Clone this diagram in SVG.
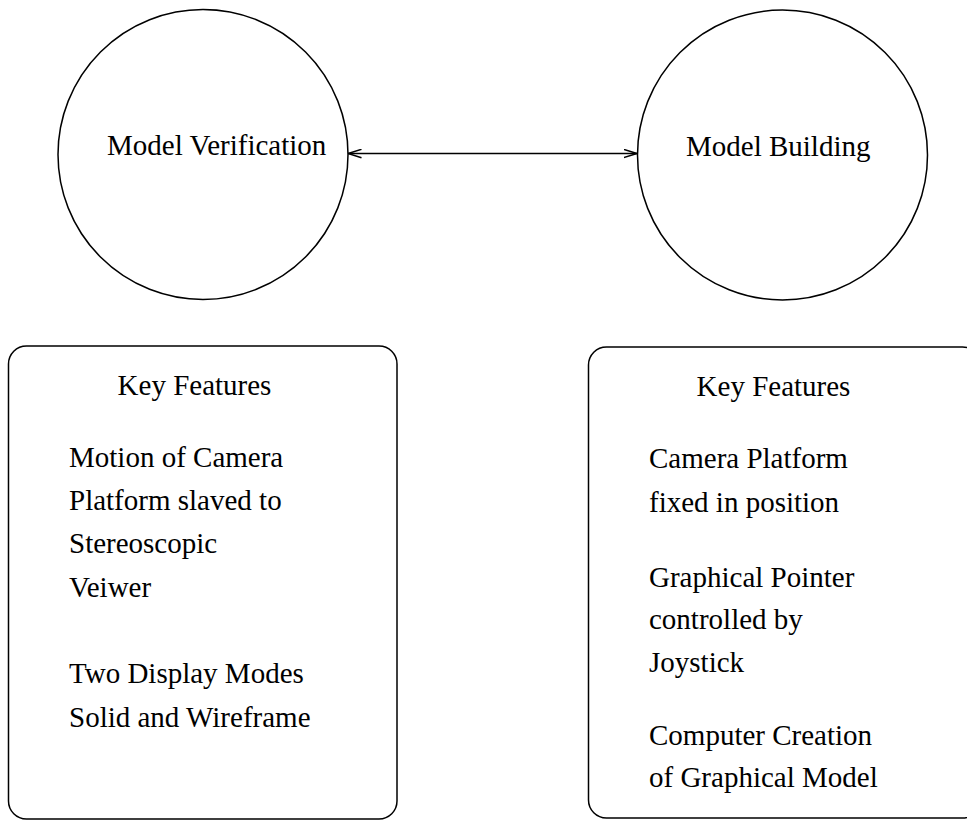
<svg xmlns="http://www.w3.org/2000/svg" width="967" height="829" viewBox="0 0 967 829">
  <style>
    .shape { fill: #ffffff; stroke: #000000; stroke-width: 1.5; }
    .label { font-family: "Liberation Serif", "Times New Roman", serif; font-size: 29px; fill: #000000; }
    .body { font-family: "Liberation Serif", "Times New Roman", serif; font-size: 29px; fill: #000000; }
    .mid { text-anchor: middle; }
    .conn { fill: none; stroke: #000000; stroke-width: 1.5; }
  </style>
  <defs>
    <marker id="open-arrow" viewBox="0 0 14 10" refX="13.5" refY="5" markerWidth="14" markerHeight="10" markerUnits="userSpaceOnUse" orient="auto-start-reverse">
      <path d="M0,0.8 L13.5,5 L0,9.2" fill="none" stroke="#000000" stroke-width="1.5"/>
    </marker>
  </defs>
  <rect width="967" height="829" fill="#ffffff"/>

  <!-- connectors -->
  <g id="connectors">
    <line class="conn" x1="348" y1="153.5" x2="637" y2="153.5" marker-start="url(#open-arrow)" marker-end="url(#open-arrow)"/>
  </g>

  <g id="model-verification">
    <circle class="shape" cx="203" cy="154.5" r="145"/>
    <text class="label" x="107" y="155">Model Verification</text>
  </g>

  <g id="model-building">
    <circle class="shape" cx="782.5" cy="155" r="145"/>
    <text class="label" x="686" y="156">Model Building</text>
  </g>

  <g id="verification-features">
    <rect class="shape" x="8.5" y="346" width="388.5" height="473" rx="18" ry="18"/>
    <text class="body mid" x="194.5" y="395">Key Features</text>
    <text class="body" x="69" y="467">Motion of Camera</text>
    <text class="body" x="69" y="510">Platform slaved to</text>
    <text class="body" x="69" y="553">Stereoscopic</text>
    <text class="body" x="69" y="597">Veiwer</text>
    <text class="body" x="69" y="683">Two Display Modes</text>
    <text class="body" x="69" y="727">Solid and Wireframe</text>
  </g>

  <g id="building-features">
    <rect class="shape" x="588.5" y="347" width="392" height="471" rx="18" ry="18"/>
    <text class="body mid" x="773.5" y="396">Key Features</text>
    <text class="body" x="649" y="468">Camera Platform</text>
    <text class="body" x="649" y="512">fixed in position</text>
    <text class="body" x="649" y="587">Graphical Pointer</text>
    <text class="body" x="649" y="629">controlled by</text>
    <text class="body" x="649" y="672">Joystick</text>
    <text class="body" x="649" y="745">Computer Creation</text>
    <text class="body" x="649" y="787">of Graphical Model</text>
  </g>
</svg>
